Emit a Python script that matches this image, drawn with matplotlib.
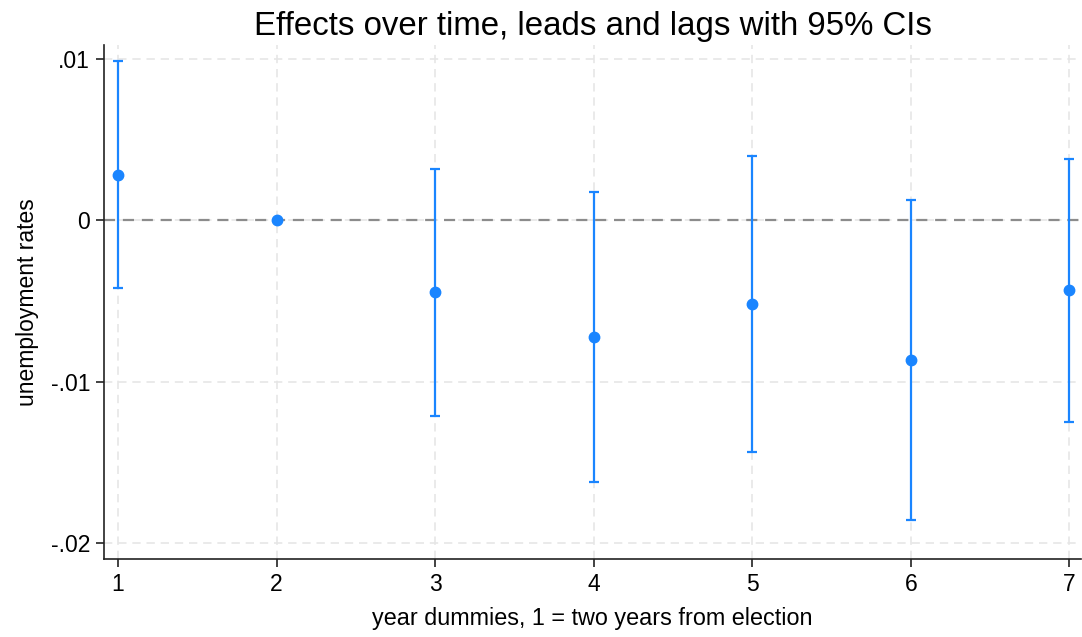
import matplotlib
matplotlib.use("Agg")
import matplotlib.pyplot as plt

plt.rcParams['font.family'] = ['Liberation Sans', 'DejaVu Sans']

x = [1, 2, 3, 4, 5, 6, 7]
coef = [0.00279, 0.0, -0.00446, -0.00725, -0.00521, -0.00868, -0.00434]
ci_low = [-0.00422, 0.0, -0.01215, -0.01624, -0.01438, -0.01860, -0.01252]
ci_high = [0.00986, 0.0, 0.00316, 0.00174, 0.00397, 0.00124, 0.00378]
yticks = [0.01, 0.0, -0.01, -0.02]
ytick_labels = ['.01', '0', '-.01', '-.02']

color = '#1a85ff'

fig = plt.figure(figsize=(10.82, 6.37), dpi=100)
ax = fig.add_axes([104/1082, 1-559/637, (1081-104)/1082, (559-45)/637])

for xi, lo, hi in zip(x, ci_low, ci_high):
    if hi != lo:
        ax.errorbar([xi], [(lo+hi)/2], yerr=[[(hi-lo)/2], [(hi-lo)/2]], fmt='none',
                    ecolor=color, elinewidth=1.6, capsize=3.5, capthick=1.6, zorder=3)
ax.plot(x, coef, 'o', color=color, markersize=7.5, zorder=4)

ax.axhline(0, color='#8c8c8c', linestyle=(0, (5, 3.5)), linewidth=1.6, zorder=2)

ax.set_xlim(0.912, 7.073)
ax.set_ylim(-0.02099, 0.01087)
ax.set_xticks(x)
ax.set_yticks(yticks)
ax.set_yticklabels(ytick_labels)
ax.grid(True, color='#e6e6e6', linestyle=(0, (5, 3.5)), linewidth=1.2, zorder=0)
ax.set_axisbelow(True)

for s in ['top', 'right']:
    ax.spines[s].set_visible(False)
for s in ['left', 'bottom']:
    ax.spines[s].set_color('#222222')
    ax.spines[s].set_linewidth(1.2)
ax.tick_params(axis='both', length=6, width=1.2, color='#222222', labelsize=16.5, pad=4)

ax.set_title('Effects over time, leads and lags with 95% CIs', fontsize=23.8, pad=7)
ax.set_xlabel('year dummies, 1 = two years from election', fontsize=16.8, labelpad=8)
ax.set_ylabel('unemployment rates', fontsize=16.5, labelpad=8)

fig.savefig('out.png', dpi=100)
